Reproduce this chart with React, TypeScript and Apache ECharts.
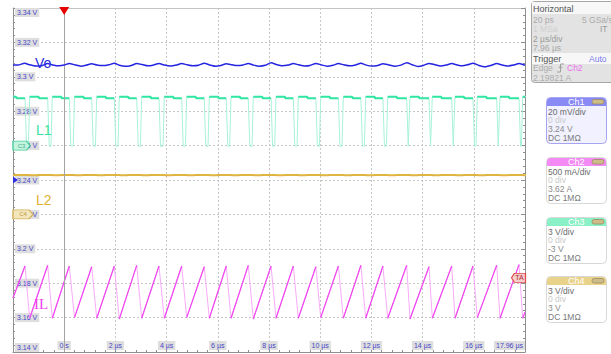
import React, { useEffect, useRef } from 'react';
import * as echarts from 'echarts';

// ---- Time axis (µs) ----
const timeTicks = [0, 2, 4, 6, 8, 10, 12, 14, 16, 18];
const timeTickLabels = ['0 s', '2 µs', '4 µs', '6 µs', '8 µs', '10 µs', '12 µs', '14 µs', '16 µs', '17.96 µs'];

// ---- IL (Ch2, A): read peak / trough instants and levels ----
const ilPeakT = [-1.531, -0.645, 0.199, 1.074, 1.957, 2.832, 3.703, 4.59, 5.47, 6.33, 7.19, 8.08, 8.95, 9.83, 10.71, 11.59, 12.45, 13.379, 14.25, 15.137, 15.969, 16.895, 17.766];
const ilPeakA = [2.37, 2.38, 2.37, 2.36, 2.37, 2.38, 2.37, 2.37, 2.36, 2.37, 2.38, 2.37, 2.37, 2.36, 2.37, 2.38, 2.37, 2.38, 2.36, 2.37, 2.37, 2.38, 2.39];
const ilTroughT = [-1.348, -0.465, 0.402, 1.27, 2.152, 3.027, 3.91, 4.785, 5.668, 6.516, 7.387, 8.273, 9.145, 10.02, 10.902, 11.777, 12.637, 13.508, 14.379, 15.266, 16.137, 17.023, 17.91];
const ilTroughA = [1.61, 1.61, 1.62, 1.61, 1.6, 1.61, 1.61, 1.62, 1.61, 1.61, 1.6, 1.61, 1.61, 1.62, 1.61, 1.61, 1.61, 1.6, 1.61, 1.61, 1.62, 1.61, 1.61];
const ilEdgeA = [1.905, 1.7]; // at left and right edges

// ---- L1 (Ch3, V) switch node levels ----
const l1Levels = [4.26, 4.12, -0.05]; // high after turn-on, high later, low
const l1Shape = [0.06, 0.05, 0.35, 0.02]; // fall time, rise time, step delay, step width (µs)
const l1FirstStep = -1.88;

// ---- L2 (Ch4, V) ----
const l2Levels = [3.44, 3.41];
const l2DipLen = [0.03, 0.3];

// ---- Vo (Ch1, V) ----
const voT = [-2.0, -1.8, -1.55, -1.35, -1.1, -0.85, -0.65, -0.45, -0.2, 0.0, 0.2, 0.42, 0.65, 0.85, 1.07, 1.28, 1.5, 1.75, 1.96, 2.15, 2.4, 2.62, 2.83, 3.05, 3.27, 3.5, 3.7, 3.92, 4.15, 4.38, 4.59, 4.8, 5.03, 5.25, 5.47, 5.68, 5.9, 6.12, 6.33, 6.55, 6.76, 6.98, 7.19, 7.4, 7.63, 7.85, 8.08, 8.3, 8.52, 8.75, 8.95, 9.15, 9.39, 9.6, 9.83, 10.05, 10.27, 10.5, 10.71, 10.92, 11.15, 11.38, 11.59, 11.8, 12.02, 12.25, 12.45, 12.68, 12.92, 13.15, 13.38, 13.6, 13.82, 14.03, 14.25, 14.48, 14.7, 14.92, 15.14, 15.35, 15.55, 15.76, 15.97, 16.2, 16.43, 16.67, 16.9, 17.1, 17.33, 17.55, 17.77, 18.0];
const voV = [3.3069, 3.3068, 3.3079, 3.3070, 3.3063, 3.3066, 3.3077, 3.3069, 3.3064, 3.3068, 3.3078, 3.3069, 3.3062, 3.3067, 3.3076, 3.3068, 3.3065, 3.3070, 3.3079, 3.3067, 3.3061, 3.3066, 3.3077, 3.3071, 3.3064, 3.3069, 3.3078, 3.3068, 3.3063, 3.3068, 3.3077, 3.3070, 3.3064, 3.3067, 3.3079, 3.3069, 3.3062, 3.3066, 3.3076, 3.3070, 3.3065, 3.3068, 3.3078, 3.3068, 3.3062, 3.3067, 3.3081, 3.3071, 3.3064, 3.3068, 3.3077, 3.3070, 3.3063, 3.3066, 3.3078, 3.3069, 3.3062, 3.3067, 3.3077, 3.3070, 3.3064, 3.3069, 3.3079, 3.3068, 3.3063, 3.3066, 3.3076, 3.3069, 3.3062, 3.3068, 3.3082, 3.3070, 3.3060, 3.3066, 3.3078, 3.3070, 3.3063, 3.3068, 3.3077, 3.3069, 3.3064, 3.3070, 3.3079, 3.3066, 3.3058, 3.3066, 3.3077, 3.3069, 3.3063, 3.3068, 3.3078, 3.3067];

// ---- channel scales (min,max of screen) ----
const ch1Range = [3.14, 3.34];
const ch2Range = [1.12, 6.12];
const ch3Range = [-18, 12];
const ch4Range = [-12, 18];
const triggerLevel = 2.19821;

const gap = (t: number) => [t, null];

function buildSeriesData() {
  const n = ilPeakT.length;
  const ilFull: any[] = [[-2, ilEdgeA[0]]];
  const ilRise: any[] = [[-2, ilEdgeA[0]], [ilPeakT[0], ilPeakA[0]], gap(ilPeakT[0] + 0.01)];
  for (let k = 0; k < n; k++) {
    ilFull.push([ilPeakT[k], ilPeakA[k]], [ilTroughT[k], ilTroughA[k]]);
    ilRise.push([ilTroughT[k], ilTroughA[k]]);
    if (k + 1 < n) ilRise.push([ilPeakT[k + 1], ilPeakA[k + 1]], gap(ilPeakT[k + 1] + 0.01));
  }
  ilFull.push([18, ilEdgeA[1]]);
  ilRise.push([18, ilEdgeA[1]]);

  const [h1, h2, lo] = l1Levels;
  const [fall, rise, stepD, stepW] = l1Shape;
  const l1Full: any[] = [[-2, h1], [l1FirstStep, h1], [l1FirstStep + stepW, h2]];
  const l1Top: any[] = [[-2, h1], [l1FirstStep, h1], [l1FirstStep + stepW, h2], [ilPeakT[0], h2], gap(ilPeakT[0] + 0.01)];
  for (let k = 0; k < n; k++) {
    l1Full.push([ilPeakT[k], h2], [ilPeakT[k] + fall, lo], [ilTroughT[k] - rise, lo], [ilTroughT[k], h1],
      [ilTroughT[k] + stepD, h1], [ilTroughT[k] + stepD + stepW, h2]);
    if (k + 1 < n) {
      l1Top.push([ilTroughT[k], h1], [ilTroughT[k] + stepD, h1], [ilTroughT[k] + stepD + stepW, h2], [ilPeakT[k + 1], h2], gap(ilPeakT[k + 1] + 0.01));
    } else {
      l1Top.push([ilTroughT[k], h1], [18, h1]);
    }
  }

  const l2: any[] = [[-2, l2Levels[0]]];
  for (let k = 0; k < n; k++) {
    const t = ilTroughT[k];
    l2.push([t, l2Levels[0]], [t + l2DipLen[0], l2Levels[1]], [t + l2DipLen[1], l2Levels[1]], [t + l2DipLen[1] + l2DipLen[0], l2Levels[0]]);
  }
  l2.push([18, l2Levels[0]]);

  const vo = voT.map((t, i) => [t, voV[i]]);
  return { ilFull, ilRise, l1Full, l1Top, l2, vo };
}

const FONT = 'Liberation Sans, Arial, sans-serif';

function txt(x: number, y: number, text: string, fill: string, size = 8.5, align = 'left', family = FONT, weight = 'normal') {
  return {
    type: 'text', x, y, z: 100, silent: true,
    style: {
      text, fill, font: `${weight} ${size}px ${family}`,
      textAlign: align, align, textVerticalAlign: 'middle', verticalAlign: 'middle',
    },
  };
}

function chBox(y: number, title: string, head: string, body: string, border: string, lines: [string, string][]) {
  const els: any[] = [
    { type: 'rect', z: 99, silent: true, shape: { x: 546.5, y: y + 0.5, width: 60, height: 46, r: 4 }, style: { fill: body, stroke: border, lineWidth: 1 } },
    { type: 'rect', z: 99, silent: true, shape: { x: 547, y: y + 1, width: 59, height: 8, r: [3.5, 3.5, 0, 0] }, style: { fill: head } },
    txt(568, y + 5, title, '#ffffff', 9),
    { type: 'rect', z: 100, silent: true, shape: { x: 592, y: y + 2.5, width: 12, height: 4.5, r: 2.2 }, style: { fill: '#cdbb8a', stroke: '#9a8a60', lineWidth: 0.8 } },
  ];
  lines.forEach((l, i) => els.push(txt(548, y + 14.5 + i * 8.7, l[0], l[1], 8.5)));
  return els;
}

function buildGraphic() {
  const g: any[] = [
    // Horizontal / trigger panel
    { type: 'rect', z: 99, silent: true, shape: { x: 531.5, y: 1.5, width: 84, height: 81, r: 3 }, style: { fill: '#e3e3e3', stroke: '#a6a6a6', lineWidth: 1 } },
    { type: 'rect', z: 99, silent: true, shape: { x: 532, y: 2, width: 83, height: 12 }, style: { fill: '#f7f7f7' } },
    txt(533, 9, 'Horizontal', '#555555', 9),
    txt(533, 20, '20 ps', '#acacac', 8.5),
    txt(582, 20, '5 GSa/s', '#acacac', 8.5),
    txt(533, 29, '1 MSa', '#d0d0d0', 8.5),
    txt(600, 29, 'IT', '#9a9a9a', 8.5),
    txt(533, 38.5, '2 µs/div', '#9a9a9a', 8.5),
    txt(533, 48, '7.96 µs', '#a8a8a8', 8.5),
    { type: 'rect', z: 99, silent: true, shape: { x: 532, y: 53, width: 83, height: 11 }, style: { fill: '#f7f7f7' } },
    txt(533, 58.5, 'Trigger', '#555555', 9),
    txt(589, 58.5, 'Auto', '#7c7cf0', 8.5),
    txt(533, 68, 'Edge', '#acacac', 8.5),
    { type: 'polyline', z: 100, silent: true, shape: { points: [[557, 72], [560.5, 72], [560.5, 64], [564, 64]] }, style: { stroke: '#a0a0a0', lineWidth: 1, fill: null } },
    { type: 'polyline', z: 100, silent: true, shape: { points: [[558.8, 68], [560.5, 66], [562.2, 68]] }, style: { stroke: '#a0a0a0', lineWidth: 1, fill: null } },
    txt(567, 68, 'Ch2', '#f070f0', 8.5),
    txt(533, 77.5, '2.19821 A', '#acacac', 8.5),
    // Trace names
    txt(35, 62.5, 'Vo', '#2a2ae0', 14),
    txt(36, 129.5, 'L1', '#3ae2a2', 14),
    txt(36, 199.5, 'L2', '#e0b232', 14),
    txt(34, 303.5, 'IL', '#f040f0', 15, 'left', 'Liberation Serif, serif'),
  ];
  g.push(...chBox(97, 'Ch1', '#8a8af4', '#f1f1ff', '#a4a4f0', [['20 mV/div', '#6a6a6a'], ['0 div', '#cacaca'], ['3.24 V', '#8a8a8a'], ['DC 1MΩ', '#7a7a7a']]));
  g.push(...chBox(157, 'Ch2', '#f48af4', '#ffffff', '#d8d8d8', [['500 mA/div', '#6a6a6a'], ['0 div', '#cacaca'], ['3.62 A', '#8a8a8a'], ['DC 1MΩ', '#7a7a7a']]));
  g.push(...chBox(217, 'Ch3', '#8af0c6', '#ffffff', '#d8d8d8', [['3 V/div', '#6a6a6a'], ['0 div', '#cacaca'], ['-3 V', '#8a8a8a'], ['DC 1MΩ', '#7a7a7a']]));
  g.push(...chBox(276, 'Ch4', '#e9d38a', '#ffffff', '#d8d8d8', [['3 V/div', '#6a6a6a'], ['0 div', '#cacaca'], ['3 V', '#8a8a8a'], ['DC 1MΩ', '#7a7a7a']]));
  return g;
}

const labelStyle = {
  fontSize: 7, fontFamily: FONT, color: '#4646c8',
  backgroundColor: '#dedede', padding: [1, 2, 1, 2],
};

export default function App() {
  const ref = useRef<HTMLDivElement>(null);
  useEffect(() => {
    if (!ref.current) return;
    const chart = echarts.init(ref.current, undefined, { renderer: 'svg' });
    const d = buildSeriesData();
    const axisGrey = '#8e8e8e';
    const option: any = {
      animation: false,
      backgroundColor: '#ffffff',
      grid: { left: 13, right: 86, top: 8, bottom: 2, containLabel: false },
      xAxis: [
        {
          type: 'value', min: -2, max: 18, interval: 2, position: 'bottom',
          axisLine: { show: true, onZero: false, lineStyle: { color: axisGrey } },
          axisTick: { show: true, inside: true, length: 4, lineStyle: { color: axisGrey } },
          minorTick: { show: true, splitNumber: 5, length: 2, lineStyle: { color: axisGrey } },
          splitLine: { show: true, lineStyle: { color: '#c6c6c6', type: [2, 2], width: 1 } },
          axisLabel: {
            ...labelStyle, inside: true, margin: 2, showMinLabel: false, alignMaxLabel: 'right',
            formatter: (v: number) => {
              const i = timeTicks.indexOf(Math.round(v * 100) / 100);
              return i >= 0 ? timeTickLabels[i] : '';
            },
          },
        },
        {
          type: 'value', min: -2, max: 18, position: 'top',
          axisLine: { show: true, onZero: false, lineStyle: { color: '#c4c4c4' } },
          axisTick: { show: false }, axisLabel: { show: false }, splitLine: { show: false },
        },
      ],
      yAxis: [
        {
          type: 'value', min: ch1Range[0], max: ch1Range[1], interval: 0.02, position: 'left',
          axisLine: { show: true, onZero: false, lineStyle: { color: axisGrey } },
          axisTick: { show: true, inside: true, length: 4, lineStyle: { color: axisGrey } },
          minorTick: { show: true, splitNumber: 5, length: 2, lineStyle: { color: axisGrey } },
          splitLine: { show: true, lineStyle: { color: '#c6c6c6', type: [2, 2], width: 1 } },
          axisLabel: {
            ...labelStyle, inside: true, margin: 2,
            verticalAlignMinLabel: 'bottom', verticalAlignMaxLabel: 'top',
            formatter: (v: number) => `${+v.toFixed(2)} V`,
          },
        },
        {
          type: 'value', min: ch1Range[0], max: ch1Range[1], interval: 0.02, position: 'right',
          axisLine: { show: true, onZero: false, lineStyle: { color: axisGrey } },
          axisTick: { show: true, inside: true, length: 4, lineStyle: { color: axisGrey } },
          minorTick: { show: true, splitNumber: 5, length: 2, lineStyle: { color: axisGrey } },
          splitLine: { show: false }, axisLabel: { show: false },
        },
        { type: 'value', min: ch2Range[0], max: ch2Range[1], show: false },
        { type: 'value', min: ch3Range[0], max: ch3Range[1], show: false },
        { type: 'value', min: ch4Range[0], max: ch4Range[1], show: false },
      ],
      series: [
        {
          name: 'IL', type: 'line', yAxisIndex: 2, data: d.ilFull, showSymbol: false, symbol: 'none',
          lineStyle: { color: '#f8aaf8', width: 1 }, z: 2,
          markPoint: {
            silent: true,
            data: [
              {
                coord: [0, ch2Range[1]], symbol: 'triangle', symbolRotate: 180, symbolSize: [10, 8], symbolOffset: [0, 3],
                itemStyle: { color: '#e80000' }, label: { show: false },
              },
              {
                coord: [18, triggerLevel], symbol: 'path://M4,0 L20,0 L20,10 L4,10 L0,5 Z', symbolKeepAspect: false,
                symbolSize: [14, 9], symbolOffset: [-6.5, 0],
                itemStyle: { color: '#f6cccc', borderColor: '#e04848', borderWidth: 1 },
                label: { show: true, formatter: 'TA', position: 'inside', fontSize: 7, color: '#b03030', fontFamily: FONT, offset: [1, 0] },
              },
            ],
          },
        },
        {
          name: 'IL rise', type: 'line', yAxisIndex: 2, data: d.ilRise, showSymbol: false, symbol: 'none',
          lineStyle: { color: '#f046f0', width: 1.2 }, z: 3,
        },
        {
          name: 'L2', type: 'line', yAxisIndex: 4, data: d.l2, showSymbol: false, symbol: 'none',
          lineStyle: { color: '#e0b440', width: 2 }, z: 3,
          markPoint: {
            silent: true,
            data: [{
              coord: [-2, 0], symbol: 'path://M0,0 L16,0 L20,5 L16,10 L0,10 Z', symbolKeepAspect: false,
              symbolSize: [20, 9], symbolOffset: [10, 0],
              itemStyle: { color: '#f3e6bd', borderColor: '#d4b25a', borderWidth: 1 },
              label: { show: true, formatter: 'C4', position: 'inside', fontSize: 6, color: '#c09a3a', fontFamily: FONT },
            }],
          },
        },
        {
          name: 'L1', type: 'line', yAxisIndex: 3, data: d.l1Full, showSymbol: false, symbol: 'none',
          lineStyle: { color: '#a8f2d8', width: 1 }, z: 3,
          markPoint: {
            silent: true,
            data: [{
              coord: [-2, 0], symbol: 'path://M0,0 L16,0 L20,5 L16,10 L0,10 Z', symbolKeepAspect: false,
              symbolSize: [17, 9], symbolOffset: [8.5, 0],
              itemStyle: { color: '#c4f4e0', borderColor: '#46cc9c', borderWidth: 1 },
              label: { show: true, formatter: 'C3', position: 'inside', fontSize: 6, color: '#3cae84', fontFamily: FONT },
            }],
          },
        },
        {
          name: 'L1 top', type: 'line', yAxisIndex: 3, data: d.l1Top, showSymbol: false, symbol: 'none',
          lineStyle: { color: '#30e6a2', width: 2 }, z: 4,
        },
        {
          name: 'Vo', type: 'line', yAxisIndex: 0, data: d.vo, showSymbol: false, symbol: 'none', smooth: 0.2,
          lineStyle: { color: '#2424e0', width: 1.5 }, z: 5,
          markLine: {
            silent: true, symbol: 'none', label: { show: false },
            lineStyle: { color: '#a4a4a4', type: 'solid', width: 1 },
            data: [{ xAxis: 0 }],
          },
          markPoint: {
            silent: true,
            data: [{
              coord: [-2, 3.24], symbol: 'triangle', symbolRotate: -90, symbolSize: [7, 5], symbolOffset: [2.5, 0],
              itemStyle: { color: '#3030e0' }, label: { show: false },
            }],
          },
        },
      ],
      graphic: buildGraphic(),
    };
    chart.setOption(option);
    return () => chart.dispose();
  }, []);
  return <div ref={ref} style={{ position: 'fixed', left: 0, top: 0, width: 611, height: 354, background: '#fff' }} />;
}
